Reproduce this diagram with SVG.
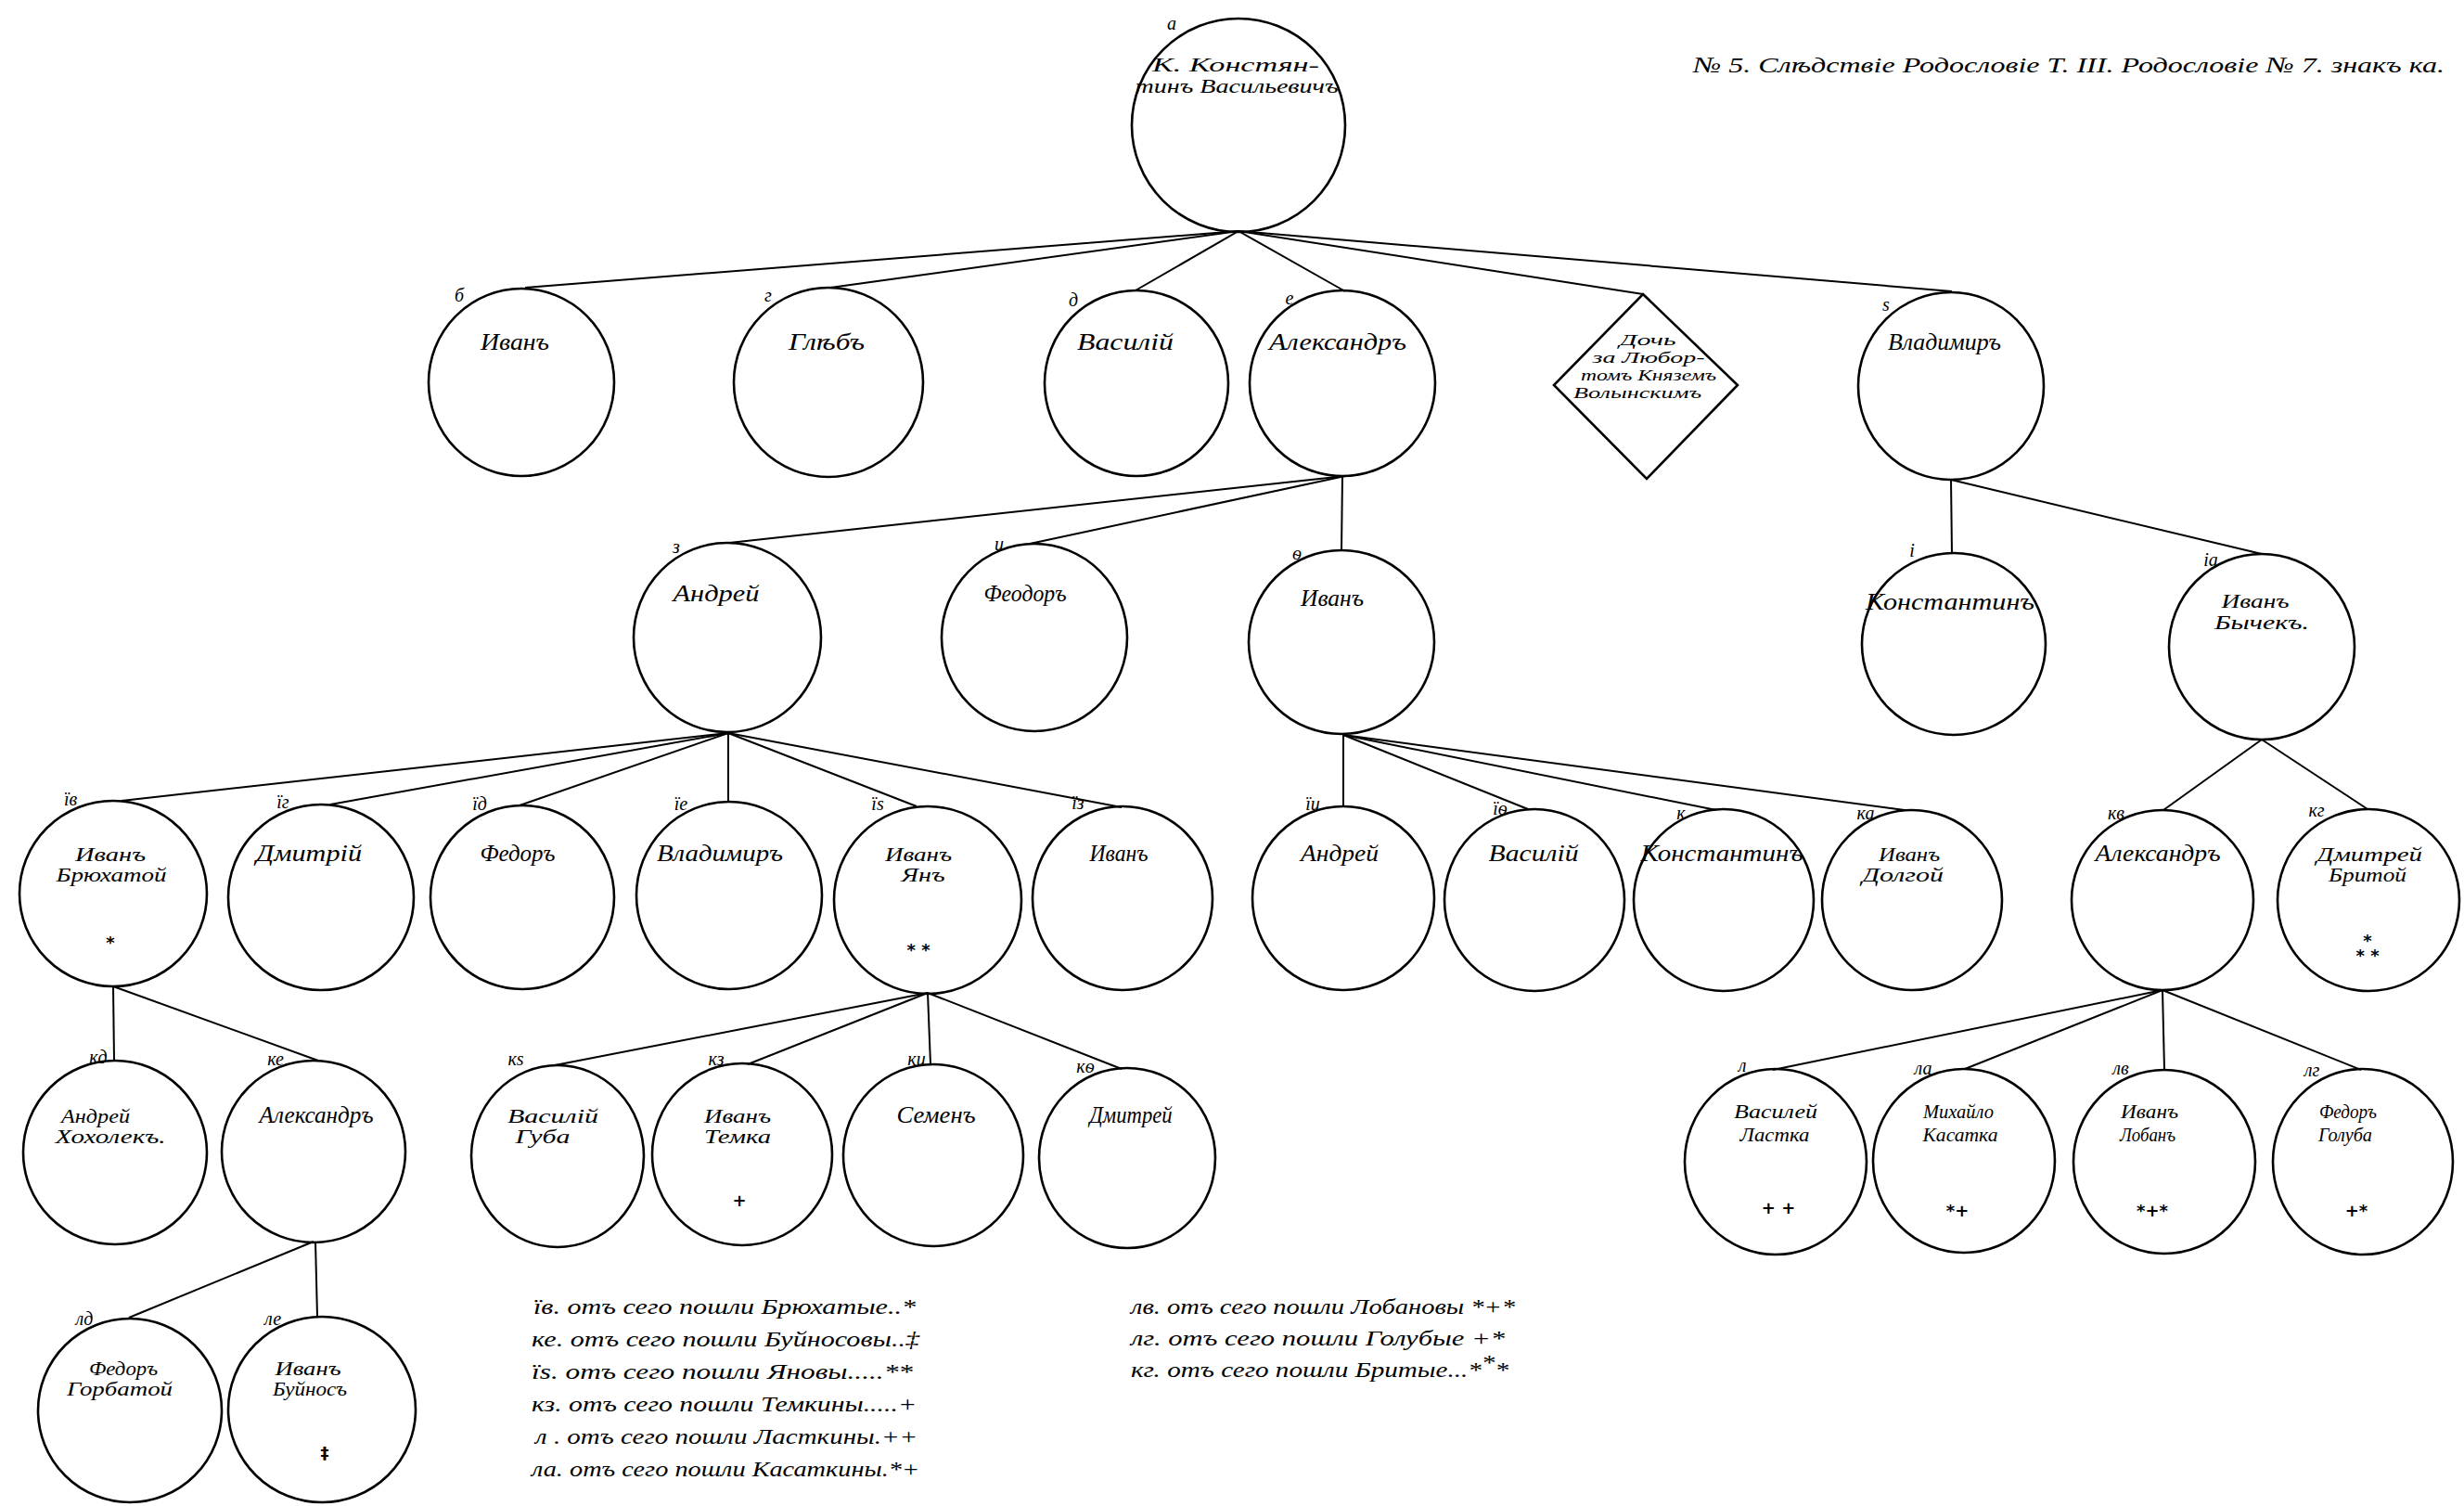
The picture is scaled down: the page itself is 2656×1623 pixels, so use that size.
<svg xmlns="http://www.w3.org/2000/svg" width="2656" height="1623" viewBox="0 0 2656 1623">
<style>
.nd{fill:none;stroke:#000;stroke-width:2.6}
.ed{fill:none;stroke:#000;stroke-width:2}
.nm{font-family:"Liberation Serif",serif;font-style:italic;font-size:25px;text-anchor:middle;fill:#000}
.n2{font-family:"Liberation Serif",serif;font-style:italic;font-size:20px;text-anchor:middle;fill:#000}
.dm{font-family:"Liberation Serif",serif;font-style:italic;font-size:16px;text-anchor:middle;fill:#000}
.lb{font-family:"Liberation Serif",serif;font-style:italic;font-size:20px;text-anchor:middle;fill:#000}
.sy{font-family:"DejaVu Sans",sans-serif;font-weight:bold;font-size:18px;text-anchor:middle;fill:#000}
.lg{font-family:"Liberation Serif",serif;font-style:italic;font-size:24px;fill:#000}
</style>
<rect width="2656" height="1623" fill="#fff"/>
<text class="lg" x="1825" y="78" font-size="26" textLength="810" lengthAdjust="spacingAndGlyphs">№ 5. Слѣдствіе  Родословіе Т. III. Родословіе № 7. знакъ ка.</text>
<g id="connectors">
<path class="ed" d="M1335,249 L566,310"/>
<path class="ed" d="M1335,249 L895,310"/>
<path class="ed" d="M1335,249 L1224,313"/>
<path class="ed" d="M1335,249 L1450,314"/>
<path class="ed" d="M1335,249 L1771,317"/>
<path class="ed" d="M1335,249 Q1760,285 2104,314"/>
<path class="ed" d="M1450,513 L786,585"/>
<path class="ed" d="M1450,513 L1110,586"/>
<path class="ed" d="M1447,513 L1446,593"/>
<path class="ed" d="M2103,517 L2104,597"/>
<path class="ed" d="M2103,517 L2438,597"/>
<path class="ed" d="M785,790 L131,863"/>
<path class="ed" d="M785,790 L356,867"/>
<path class="ed" d="M785,790 L560,868"/>
<path class="ed" d="M785,790 L785,863"/>
<path class="ed" d="M785,790 L988,869"/>
<path class="ed" d="M785,790 L1209,870"/>
<path class="ed" d="M1448,792 L1448,870"/>
<path class="ed" d="M1448,792 L1647,872"/>
<path class="ed" d="M1448,792 L1850,873"/>
<path class="ed" d="M1448,792 L2053,873"/>
<path class="ed" d="M2438,797 L2332,873"/>
<path class="ed" d="M2438,797 L2552,872"/>
<path class="ed" d="M122,1063 L123,1143"/>
<path class="ed" d="M122,1063 L343,1143"/>
<path class="ed" d="M1000,1070 L598,1148"/>
<path class="ed" d="M1000,1070 L806,1147"/>
<path class="ed" d="M1000,1070 L1003,1147"/>
<path class="ed" d="M1000,1070 L1209,1152"/>
<path class="ed" d="M2331,1067 L1911,1153"/>
<path class="ed" d="M2331,1067 L2118,1152"/>
<path class="ed" d="M2331,1067 L2333,1153"/>
<path class="ed" d="M2331,1067 L2545,1153"/>
<path class="ed" d="M338,1338 L139,1420"/>
<path class="ed" d="M340,1338 L342,1419"/>
</g>
<g id="n-a"><ellipse class="nd" cx="1335" cy="135" rx="115" ry="115"/><text class="lb" x="1263" y="32">а</text><text class="n2" font-size="21" x="1332" y="77" textLength="180" lengthAdjust="spacingAndGlyphs">К. Констян-</text><text class="n2" font-size="21" x="1333" y="100" textLength="219" lengthAdjust="spacingAndGlyphs">тинъ Васильевичъ</text></g>
<g id="n-b"><ellipse class="nd" cx="562" cy="412" rx="100" ry="101"/><text class="lb" x="495" y="325">б</text><text class="nm" x="555" y="377" textLength="74" lengthAdjust="spacingAndGlyphs">Иванъ</text></g>
<g id="n-g"><ellipse class="nd" cx="893" cy="412" rx="102" ry="102"/><text class="lb" x="828" y="325">г</text><text class="nm" x="891" y="377" textLength="82" lengthAdjust="spacingAndGlyphs">Глѣбъ</text></g>
<g id="n-d"><ellipse class="nd" cx="1225" cy="413" rx="99" ry="100"/><text class="lb" x="1157" y="330">д</text><text class="nm" x="1213" y="377" textLength="104" lengthAdjust="spacingAndGlyphs">Василій</text></g>
<g id="n-e"><ellipse class="nd" cx="1447" cy="413" rx="100" ry="100"/><text class="lb" x="1390" y="328">е</text><text class="nm" x="1442" y="377" textLength="148" lengthAdjust="spacingAndGlyphs">Александръ</text></g>
<g id="n-doch"><polygon class="nd" points="1771,317 1873,415 1775,516 1675,415"/><text class="dm" x="1776" y="372" textLength="61" lengthAdjust="spacingAndGlyphs">Дочь</text><text class="dm" x="1777" y="391" textLength="121" lengthAdjust="spacingAndGlyphs">за Любор-</text><text class="dm" x="1777" y="410" textLength="146" lengthAdjust="spacingAndGlyphs">томъ Княземъ</text><text class="dm" x="1765" y="429" textLength="138" lengthAdjust="spacingAndGlyphs">Волынскимъ</text></g>
<g id="n-s"><ellipse class="nd" cx="2103" cy="416" rx="100" ry="101"/><text class="lb" x="2033" y="335">ѕ</text><text class="nm" x="2096" y="377" textLength="122" lengthAdjust="spacingAndGlyphs">Владимиръ</text></g>
<g id="n-z"><ellipse class="nd" cx="784" cy="687" rx="101" ry="102"/><text class="lb" x="729" y="596">з</text><text class="nm" x="772" y="648" textLength="93" lengthAdjust="spacingAndGlyphs">Андрей</text></g>
<g id="n-i"><ellipse class="nd" cx="1115" cy="687" rx="100" ry="101"/><text class="lb" x="1077" y="593">и</text><text class="nm" x="1105" y="648" textLength="89" lengthAdjust="spacingAndGlyphs">Феодоръ</text></g>
<g id="n-th"><ellipse class="nd" cx="1446" cy="692" rx="100" ry="99"/><text class="lb" x="1398" y="603">ѳ</text><text class="nm" x="1436" y="653" textLength="68" lengthAdjust="spacingAndGlyphs">Иванъ</text></g>
<g id="n-i10"><ellipse class="nd" cx="2106" cy="694" rx="99" ry="98"/><text class="lb" x="2061" y="600">і</text><text class="nm" x="2102" y="657" textLength="182" lengthAdjust="spacingAndGlyphs">Константинъ</text></g>
<g id="n-i11"><ellipse class="nd" cx="2438" cy="697" rx="100" ry="100"/><text class="lb" x="2383" y="610">іа</text><text class="n2" x="2431" y="655" textLength="73" lengthAdjust="spacingAndGlyphs">Иванъ</text><text class="n2" x="2438" y="678" textLength="102" lengthAdjust="spacingAndGlyphs">Бычекъ.</text></g>
<g id="n-12"><ellipse class="nd" cx="122" cy="963" rx="101" ry="100"/><text class="lb" x="76" y="868">їв</text><text class="n2" x="119" y="928" textLength="76" lengthAdjust="spacingAndGlyphs">Иванъ</text><text class="n2" x="120" y="950" textLength="119" lengthAdjust="spacingAndGlyphs">Брюхатой</text><text class="sy" x="119" y="1022">*</text></g>
<g id="n-13"><ellipse class="nd" cx="346" cy="967" rx="100" ry="100"/><text class="lb" x="305" y="871">їг</text><text class="nm" x="333" y="928" textLength="114" lengthAdjust="spacingAndGlyphs">Дмитрій</text></g>
<g id="n-14"><ellipse class="nd" cx="563" cy="967" rx="99" ry="99"/><text class="lb" x="517" y="873">їд</text><text class="nm" x="558" y="928" textLength="81" lengthAdjust="spacingAndGlyphs">Федоръ</text></g>
<g id="n-15"><ellipse class="nd" cx="786" cy="965" rx="100" ry="101"/><text class="lb" x="734" y="873">їе</text><text class="nm" x="776" y="928" textLength="136" lengthAdjust="spacingAndGlyphs">Владимиръ</text></g>
<g id="n-16"><ellipse class="nd" cx="1000" cy="970" rx="101" ry="101"/><text class="lb" x="946" y="873">їѕ</text><text class="n2" x="990" y="928" textLength="72" lengthAdjust="spacingAndGlyphs">Иванъ</text><text class="n2" x="995" y="950" textLength="47" lengthAdjust="spacingAndGlyphs">Янъ</text><text class="sy" x="990" y="1030">* *</text></g>
<g id="n-17"><ellipse class="nd" cx="1210" cy="968" rx="97" ry="99"/><text class="lb" x="1162" y="872">їз</text><text class="nm" x="1206" y="928" textLength="63" lengthAdjust="spacingAndGlyphs">Иванъ</text></g>
<g id="n-18"><ellipse class="nd" cx="1448" cy="968" rx="98" ry="99"/><text class="lb" x="1415" y="873">їи</text><text class="nm" x="1444" y="928" textLength="84" lengthAdjust="spacingAndGlyphs">Андрей</text></g>
<g id="n-19"><ellipse class="nd" cx="1654" cy="970" rx="97" ry="98"/><text class="lb" x="1617" y="878">їѳ</text><text class="nm" x="1653" y="928" textLength="97" lengthAdjust="spacingAndGlyphs">Василій</text></g>
<g id="n-20"><ellipse class="nd" cx="1858" cy="970" rx="97" ry="98"/><text class="lb" x="1812" y="883">к</text><text class="nm" x="1856" y="928" textLength="175" lengthAdjust="spacingAndGlyphs">Константинъ</text></g>
<g id="n-21"><ellipse class="nd" cx="2061" cy="970" rx="97" ry="97"/><text class="lb" x="2011" y="883">ка</text><text class="n2" x="2058" y="928" textLength="66" lengthAdjust="spacingAndGlyphs">Иванъ</text><text class="n2" x="2051" y="950" textLength="88" lengthAdjust="spacingAndGlyphs">Долгой</text></g>
<g id="n-22"><ellipse class="nd" cx="2331" cy="970" rx="98" ry="97"/><text class="lb" x="2281" y="883">кв</text><text class="nm" x="2326" y="928" textLength="135" lengthAdjust="spacingAndGlyphs">Александръ</text></g>
<g id="n-23"><ellipse class="nd" cx="2553" cy="970" rx="98" ry="98"/><text class="lb" x="2497" y="880">кг</text><text class="n2" x="2554" y="928" textLength="114" lengthAdjust="spacingAndGlyphs">Дмитрей</text><text class="n2" x="2552" y="950" textLength="84" lengthAdjust="spacingAndGlyphs">Бритой</text><text class="sy" x="2552" y="1020">*</text><text class="sy" x="2552" y="1036">* *</text></g>
<g id="n-24"><ellipse class="nd" cx="124" cy="1242" rx="99" ry="99"/><text class="lb" x="106" y="1146">кд</text><text class="n2" x="103" y="1210" textLength="74" lengthAdjust="spacingAndGlyphs">Андрей</text><text class="n2" x="119" y="1232" textLength="119" lengthAdjust="spacingAndGlyphs">Хохолекъ.</text></g>
<g id="n-25"><ellipse class="nd" cx="338" cy="1241" rx="99" ry="98"/><text class="lb" x="297" y="1148">ке</text><text class="nm" x="341" y="1210" textLength="123" lengthAdjust="spacingAndGlyphs">Александръ</text></g>
<g id="n-26"><ellipse class="nd" cx="601" cy="1246" rx="93" ry="98"/><text class="lb" x="556" y="1148">кѕ</text><text class="n2" x="596" y="1210" textLength="98" lengthAdjust="spacingAndGlyphs">Василій</text><text class="n2" x="585" y="1232" textLength="59" lengthAdjust="spacingAndGlyphs">Губа</text></g>
<g id="n-27"><ellipse class="nd" cx="800" cy="1244" rx="97" ry="98"/><text class="lb" x="772" y="1148">кз</text><text class="n2" x="795" y="1210" textLength="72" lengthAdjust="spacingAndGlyphs">Иванъ</text><text class="n2" x="795" y="1232" textLength="72" lengthAdjust="spacingAndGlyphs">Темка</text><text class="sy" x="797" y="1300">+</text></g>
<g id="n-28"><ellipse class="nd" cx="1006" cy="1245" rx="97" ry="98"/><text class="lb" x="988" y="1148">ки</text><text class="nm" x="1009" y="1210" textLength="85" lengthAdjust="spacingAndGlyphs">Семенъ</text></g>
<g id="n-29"><ellipse class="nd" cx="1215" cy="1248" rx="95" ry="97"/><text class="lb" x="1170" y="1156">кѳ</text><text class="nm" x="1219" y="1210" textLength="89" lengthAdjust="spacingAndGlyphs">Дмитрей</text></g>
<g id="n-30"><ellipse class="nd" cx="1914" cy="1252" rx="98" ry="100"/><text class="lb" x="1878" y="1155">л</text><text class="n2" x="1914" y="1205" textLength="90" lengthAdjust="spacingAndGlyphs">Василей</text><text class="n2" x="1913" y="1230" textLength="75" lengthAdjust="spacingAndGlyphs">Ластка</text><text class="sy" x="1917" y="1308">+ +</text></g>
<g id="n-31"><ellipse class="nd" cx="2117" cy="1251" rx="98" ry="99"/><text class="lb" x="2073" y="1158">ла</text><text class="n2" x="2111" y="1205" textLength="76" lengthAdjust="spacingAndGlyphs">Михайло</text><text class="n2" x="2113" y="1230" textLength="81" lengthAdjust="spacingAndGlyphs">Касатка</text><text class="sy" x="2110" y="1311">*+</text></g>
<g id="n-32"><ellipse class="nd" cx="2333" cy="1252" rx="98" ry="99"/><text class="lb" x="2286" y="1158">лв</text><text class="n2" x="2317" y="1205" textLength="62" lengthAdjust="spacingAndGlyphs">Иванъ</text><text class="n2" x="2315" y="1230" textLength="60" lengthAdjust="spacingAndGlyphs">Лобанъ</text><text class="sy" x="2320" y="1311">*+*</text></g>
<g id="n-33"><ellipse class="nd" cx="2547" cy="1252" rx="97" ry="100"/><text class="lb" x="2492" y="1160">лг</text><text class="n2" x="2531" y="1205" textLength="62" lengthAdjust="spacingAndGlyphs">Федоръ</text><text class="n2" x="2528" y="1230" textLength="58" lengthAdjust="spacingAndGlyphs">Голуба</text><text class="sy" x="2540" y="1311">+*</text></g>
<g id="n-34"><ellipse class="nd" cx="140" cy="1520" rx="99" ry="99"/><text class="lb" x="91" y="1428">лд</text><text class="n2" x="133" y="1482" textLength="74" lengthAdjust="spacingAndGlyphs">Федоръ</text><text class="n2" x="129" y="1504" textLength="114" lengthAdjust="spacingAndGlyphs">Горбатой</text></g>
<g id="n-35"><ellipse class="nd" cx="347" cy="1519" rx="101" ry="100"/><text class="lb" x="294" y="1428">ле</text><text class="n2" x="332" y="1482" textLength="71" lengthAdjust="spacingAndGlyphs">Иванъ</text><text class="n2" x="334" y="1504" textLength="80" lengthAdjust="spacingAndGlyphs">Буйносъ</text><text class="sy" x="350" y="1572" font-size="22">‡</text></g>
<g id="legend">
<text class="lg" x="575" y="1416" textLength="412" lengthAdjust="spacingAndGlyphs">їв. отъ сего пошли Брюхатые..*</text>
<text class="lg" x="573" y="1451" textLength="418" lengthAdjust="spacingAndGlyphs">ке. отъ сего пошли Буйносовы..‡</text>
<text class="lg" x="573" y="1486" textLength="411" lengthAdjust="spacingAndGlyphs">їѕ. отъ сего пошли Яновы.....**</text>
<text class="lg" x="573" y="1521" textLength="415" lengthAdjust="spacingAndGlyphs">кз. отъ сего пошли Темкины.....+</text>
<text class="lg" x="577" y="1556" textLength="412" lengthAdjust="spacingAndGlyphs">л . отъ сего пошли Ласткины.++</text>
<text class="lg" x="573" y="1591" textLength="418" lengthAdjust="spacingAndGlyphs">ла. отъ сего пошли Касаткины.*+</text>
<text class="lg" x="1219" y="1416" textLength="414" lengthAdjust="spacingAndGlyphs">лв. отъ сего пошли Лобановы *+*</text>
<text class="lg" x="1219" y="1450" textLength="403" lengthAdjust="spacingAndGlyphs">лг. отъ сего пошли Голубые  +*</text>
<text class="lg" x="1219" y="1484" textLength="407" lengthAdjust="spacingAndGlyphs">кг. отъ сего пошли Бритые...*<tspan dy="-8">*</tspan><tspan dy="8">*</tspan></text>
</g>
</svg>
